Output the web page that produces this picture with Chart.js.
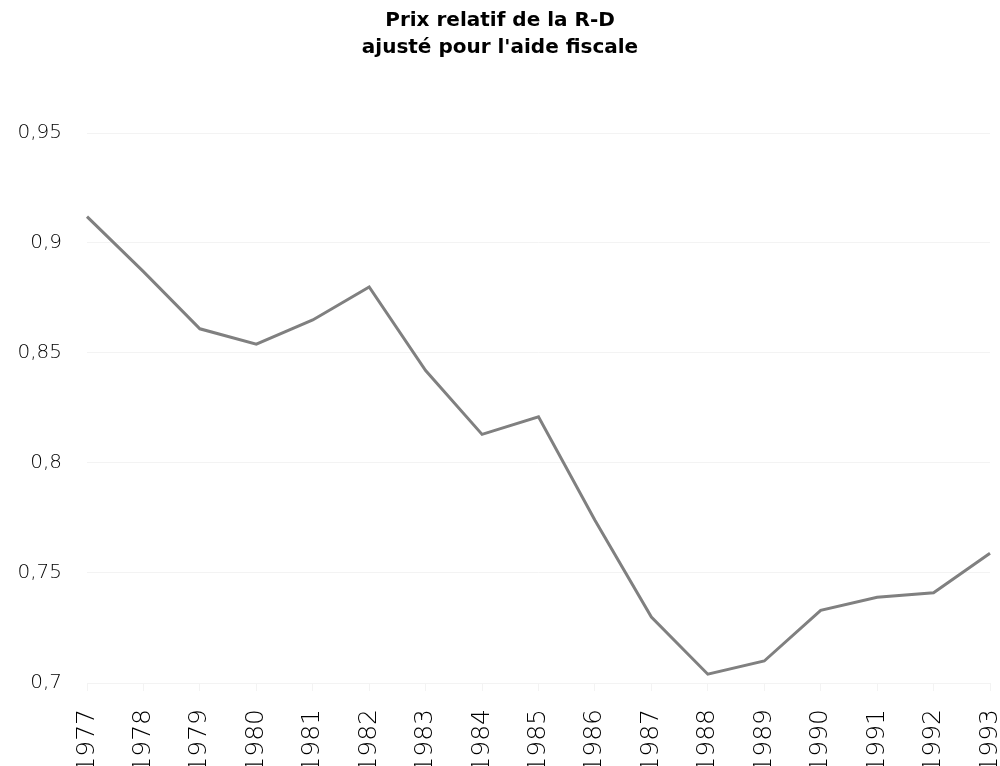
<!DOCTYPE html>
<html>
<head>
<meta charset="utf-8">
<script src="https://cdn.jsdelivr.net/npm/chart.js@4.4.1/dist/chart.umd.min.js"></script>
<style>
  html, body { margin: 0; padding: 0; background: #fff; overflow: hidden; }
  #wrap { width: 1000px; height: 780px; position: relative; }
</style>
</head>
<body>
<div id="wrap"><canvas id="rdChart"></canvas></div>
<script>
// data
const years = ['1977', '1978', '1979', '1980', '1981', '1982', '1983', '1984', '1985',
               '1986', '1987', '1988', '1989', '1990', '1991', '1992', '1993'];
const relativePrice = [0.912, 0.887, 0.861, 0.854, 0.865, 0.880, 0.842, 0.813, 0.821,
                       0.774, 0.730, 0.704, 0.710, 0.733, 0.739, 0.741, 0.759];
const yTicks = [0.7, 0.75, 0.8, 0.85, 0.9, 0.95];
const titleLines = ['Prix relatif de la R-D', "ajusté pour l'aide fiscale"];

const gridColor = '#f3f3f3';

const ctx = document.getElementById('rdChart');
new Chart(ctx, {
    type: 'line',
    data: {
        labels: years,
        datasets: [{
            data: relativePrice,
            borderColor: '#808080',
            borderWidth: 3,
            pointRadius: 0,
            tension: 0,
            fill: false
        }]
    },
    options: {
        responsive: true,
        maintainAspectRatio: false,
        animation: false,
        layout: { padding: { left: 10, right: 10, top: 0, bottom: 0 } },
        plugins: {
            legend: { display: false },
            tooltip: { enabled: false },
            title: {
                display: true,
                text: titleLines,
                color: '#000',
                font: { family: '"DejaVu Sans", sans-serif', size: 20, weight: 'bold', lineHeight: 1.35 },
                padding: { top: 7, bottom: 72 }
            }
        },
        scales: {
            x: {
                offset: false,
                afterFit: (axis) => {
                    axis.height = 97;
                    axis.paddingLeft = 0;
                    axis.paddingRight = 0;
                },
                grid: { color: gridColor, drawOnChartArea: false, tickLength: 8 },
                border: { display: false },
                ticks: {
                    color: '#000',
                    font: { family: '"DejaVu Sans", sans-serif', size: 25, weight: 200 },
                    maxRotation: 90,
                    minRotation: 90,
                    autoSkip: false,
                    padding: 18
                }
            },
            y: {
                min: 0.7,
                max: 0.95,
                afterBuildTicks: (axis) => { axis.ticks = yTicks.map(v => ({ value: v })); },
                afterFit: (axis) => { axis.width = 77; },
                grid: { color: gridColor, drawTicks: false },
                border: { display: false },
                ticks: {
                    color: '#000',
                    font: { family: '"DejaVu Sans", sans-serif', size: 20, weight: 200 },
                    padding: 25,
                    callback: (v) => String(v).replace('.', ',')
                }
            }
        }
    }
});
</script>
</body>
</html>
